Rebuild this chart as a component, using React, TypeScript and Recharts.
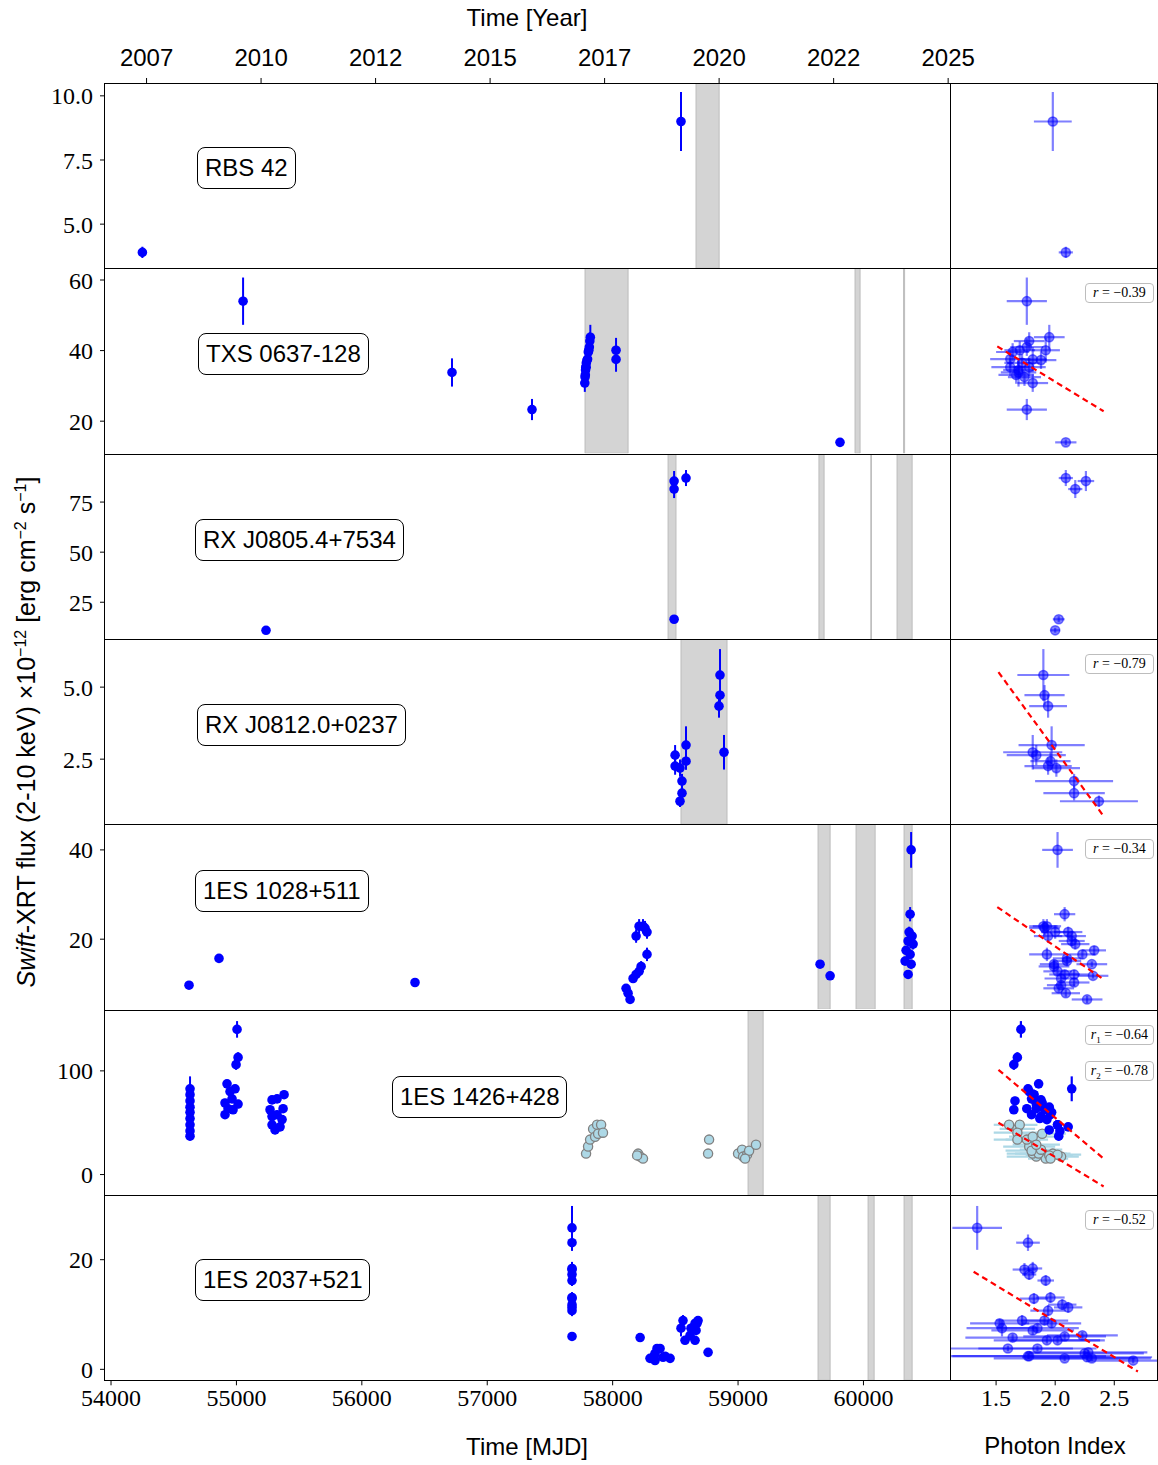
import React from "react"
import { ScatterChart, Scatter, XAxis, YAxis, ErrorBar, ReferenceArea } from "recharts"

const SANS = '"Liberation Sans", Arial, sans-serif'
const SERIF = '"Liberation Serif", "DejaVu Serif", serif'

// axes
const MJD_DOMAIN: [number, number] = [53952, 60690]
const mjdTicks = [54000, 55000, 56000, 57000, 58000, 59000, 60000]
const yearTicks = [2007.5, 2010, 2012.5, 2015, 2017.5, 2020, 2022.5, 2025]
const yearLabels = ["2007", "2010", "2012", "2015", "2017", "2020", "2022", "2025"]
const IDX_DOMAIN: [number, number] = [1.11, 2.87]
const idxTicks = [1.5, 2.0, 2.5]

// RBS 42
const rbsMjd = [54250, 58545]
const rbsFlux = [3.9, 9.0]
const rbsErr = [0.22, 1.15]
const rbsIdx = [2.09, 1.98]
const rbsIdxErr = [0.06, 0.16]
const rbsBands = [[58665, 58849]]

// TXS 0637-128
const txsMjd = [55053, 56719, 57357, 57778, 57780, 57782, 57784, 57786, 57788, 57790, 57796, 57800, 57806, 57810, 57814, 57818, 57822, 58027, 58027, 59813]
const txsFlux = [54.0, 33.8, 23.3, 30.8, 32.5, 33.1, 34.5, 35.3, 35.3, 36.5, 37.3, 37.6, 39.6, 40.1, 41.0, 42.7, 43.8, 40.1, 37.5, 14.0]
const txsErr = [6.7, 4.0, 3.0, 2.5, 2.5, 2.5, 2.5, 2.5, 2.5, 2.5, 2.5, 2.5, 2.5, 2.5, 2.5, 2.5, 3.5, 3.5, 3.5, 0.8]
const txsIdx = [1.76, 1.69, 1.76, 1.81, 1.74, 1.67, 1.69, 1.62, 1.78, 1.72, 1.88, 1.62, 1.64, 1.70, 1.76, 1.78, 1.95, 1.92, 1.81, 2.09]
const txsIdxErr = [0.17, 0.15, 0.17, 0.13, 0.14, 0.15, 0.13, 0.16, 0.14, 0.15, 0.13, 0.17, 0.14, 0.13, 0.14, 0.13, 0.13, 0.12, 0.12, 0.09]
const txsBands = [[57780, 58123], [59933, 59973], [60320, 60328]]
const txsFitIdx = [1.51, 2.41]
const txsFitFlux = [41.2, 22.8]

// RX J0805.4+7534
const rxaMjd = [55236, 58490, 58490, 58490, 58585]
const rxaFlux = [11.0, 85.5, 81.5, 16.5, 87.0]
const rxaErr = [1.2, 5.0, 4.5, 1.5, 4.0]
const rxaIdx = [2.0, 2.26, 2.17, 2.03, 2.09]
const rxaIdxErr = [0.04, 0.07, 0.06, 0.05, 0.06]
const rxaBands = [[58442, 58505], [59645, 59686], [60059, 60063], [60268, 60388]]

// RX J0812.0+0237
const rxbMjd = [58856, 58856, 58848, 58888, 58585, 58585, 58498, 58498, 58537, 58553, 58553, 58537]
const rxbFlux = [5.42, 4.72, 4.34, 2.74, 2.99, 2.43, 2.64, 2.26, 2.19, 1.74, 1.32, 1.04]
const rxbErr = [0.9, 0.35, 0.4, 0.6, 0.65, 0.3, 0.35, 0.3, 0.3, 0.25, 0.25, 0.2]
const rxbIdx = [1.9, 1.91, 1.94, 1.81, 1.97, 1.96, 1.84, 1.94, 2.01, 2.16, 2.16, 2.37]
const rxbIdxErr = [0.22, 0.17, 0.16, 0.25, 0.28, 0.17, 0.25, 0.2, 0.2, 0.33, 0.26, 0.33]
const rxbBands = [[58545, 58912]]
const rxbFitIdx = [1.52, 2.41]
const rxbFitFlux = [5.52, 0.52]

// 1ES 1028+511
const esaMjd = [54622, 54861, 56424, 58139, 58123, 58107, 58163, 58187, 58211, 58227, 58274, 58187, 58211, 58258, 58274, 58242, 59654, 59734, 60380, 60372, 60364, 60388, 60356, 60396, 60340, 60372, 60332, 60380, 60356]
const esaFlux = [9.7, 15.7, 10.3, 6.5, 7.9, 9.0, 11.2, 12.1, 12.8, 13.9, 16.6, 20.7, 22.9, 22.5, 21.6, 22.9, 14.4, 11.8, 40.0, 25.6, 21.6, 20.7, 19.6, 18.9, 17.5, 16.6, 15.1, 14.4, 12.1]
const esaErr = [0.6, 0.6, 0.8, 0.8, 0.8, 0.8, 1.0, 1.0, 1.0, 1.2, 1.5, 1.5, 1.6, 1.6, 1.5, 1.6, 0.6, 0.6, 4.0, 1.6, 1.2, 1.2, 1.2, 1.2, 1.0, 1.0, 1.0, 1.0, 1.0]
const esaIdx = [2.05, 2.1, 2.16, 2.27, 2.09, 2.03, 2.05, 2.08, 2.02, 1.99, 1.93, 1.94, 1.93, 1.91, 2.0, 1.9, 2.31, 2.32, 2.02, 2.08, 2.11, 2.14, 2.14, 2.17, 2.33, 2.23, 2.1, 1.99, 2.16]
const esaIdxErr = [0.12, 0.12, 0.13, 0.13, 0.12, 0.13, 0.14, 0.13, 0.12, 0.13, 0.15, 0.12, 0.12, 0.13, 0.12, 0.12, 0.13, 0.13, 0.13, 0.09, 0.12, 0.12, 0.11, 0.12, 0.1, 0.11, 0.12, 0.12, 0.13]
const esaBands = [[59638, 59734], [59941, 60093], [60324, 60388]]
const esaFitIdx = [1.51, 2.41]
const esaFitFlux = [27.2, 11.0]

// 1ES 1426+428 (two epochs)
const esbMjd = [54630, 54630, 54630, 54630, 54630, 54630, 54630, 54630, 54630, 55005, 55013, 54997, 54925, 54989, 54949, 54965, 55013, 54909, 54933, 54909, 54973, 55284, 55324, 55380, 55268, 55372, 55284, 55324, 55364, 55284, 55348, 55308]
const esbFlux = [82.7, 77, 71, 65, 60, 54, 48, 42, 37, 140, 113, 106, 87.5, 82.7, 80, 73, 68, 69, 63.5, 57.7, 62.5, 72, 73, 77, 62.5, 63.5, 56, 57.7, 53, 48, 46, 43]
const esbErr = [12, 5, 4, 4, 4, 4, 4, 4, 4, 8, 5, 5, 4, 4, 4, 4, 4, 4, 4, 4, 4, 4, 4, 4, 4, 4, 4, 4, 4, 4, 4, 4]
const esbIdx = [2.14, 1.82, 1.66, 1.95, 1.97, 1.87, 2.02, 2.04, 2.03, 1.71, 1.68, 1.65, 1.86, 1.77, 1.78, 1.81, 1.84, 1.89, 1.76, 1.8, 1.91, 1.88, 1.8, 1.82, 1.65, 1.84, 1.88, 1.96, 1.93, 2.02, 2.11, 1.95]
const esbIdxErr = esbIdx.map(() => 0.03)
const eslMjd = [57788, 57804, 57820, 57844, 57876, 57908, 57860, 57884, 57923, 58203, 58219, 58242, 58195, 58769, 58761, 59000, 59032, 59040, 59072, 59088, 59143, 59056]
const eslFlux = [20.2, 27, 33.7, 44, 48, 48, 36.5, 39.4, 40.4, 20.2, 17.3, 15.4, 18.5, 33.7, 20.2, 20.2, 24, 17.3, 19.2, 23, 28.8, 15.4]
const eslErr = eslFlux.map(() => 1.5)
const eslIdx = [1.9, 1.78, 1.76, 1.68, 1.61, 1.7, 1.81, 1.89, 1.68, 1.98, 1.84, 1.92, 1.95, 1.68, 1.81, 1.86, 1.88, 2.05, 2.02, 1.8, 1.84, 1.96]
const eslIdxErr = [0.2, 0.22, 0.18, 0.15, 0.13, 0.15, 0.2, 0.2, 0.2, 0.15, 0.25, 0.15, 0.2, 0.2, 0.22, 0.2, 0.18, 0.15, 0.2, 0.22, 0.2, 0.15]
const esbBands = [[59080, 59200]]
const esbFitIdx = [1.52, 2.41]
const esbFit1Flux = [101, 15.4]
const esbFit2Flux = [50, -11.5]

// 1ES 2037+521
const escMjd = [57676, 57676, 57676, 57676, 57676, 57676, 57676, 57676, 57676, 57676, 57676, 58561, 58657, 58545, 58681, 58673, 58625, 58665, 58219, 58657, 58577, 57676, 58617, 58378, 58354, 58418, 58330, 58298, 58338, 58761, 58402, 58458, 58338]
const escFlux = [25.8, 23.1, 18.2, 18.4, 17.3, 16.2, 12.9, 13.1, 11.8, 11.3, 10.7, 8.9, 8.4, 7.5, 8.9, 8.4, 7.5, 7.1, 5.8, 5.3, 5.3, 6.0, 6.2, 3.8, 3.8, 2.4, 2.4, 2.0, 2.9, 3.1, 2.2, 2.0, 1.6]
const escErr = [4, 1.5, 1.2, 1.2, 1.0, 1.0, 1.0, 1.0, 1.0, 1.0, 1.0, 1.0, 0.8, 1.5, 0.8, 0.8, 0.8, 0.8, 0.6, 0.6, 0.6, 0.6, 0.6, 0.5, 0.5, 0.5, 0.5, 0.5, 0.5, 0.5, 0.5, 0.5, 0.5]
const escIdx = [1.34, 1.77, 1.74, 1.81, 1.78, 1.92, 1.82, 1.96, 2.06, 2.11, 1.94, 1.72, 1.53, 1.55, 1.91, 1.97, 1.85, 1.81, 1.64, 1.93, 2.02, 2.08, 2.23, 1.6, 1.85, 1.77, 1.78, 2.08, 2.25, 2.28, 2.27, 2.31, 2.66]
const escIdxErr = [0.21, 0.1, 0.1, 0.08, 0.06, 0.07, 0.12, 0.12, 0.12, 0.12, 0.15, 0.22, 0.25, 0.3, 0.2, 0.25, 0.35, 0.35, 0.4, 0.45, 0.4, 0.35, 0.3, 0.55, 0.5, 0.7, 0.65, 0.6, 0.5, 0.5, 0.55, 0.5, 0.4]
const escBands = [[59638, 59734], [60037, 60085], [60324, 60388]]
const escFitIdx = [1.31, 2.7]
const escFitFlux = [17.8, -0.4]

type Kind = "blue" | "solid" | "light"
type Series = { mjd: number[]; flux: number[]; err: number[]; idx: number[]; idxErr: number[]; kind: Kind }
type Fit = { idx: number[]; flux: number[] }
type RLabel = { sub?: string; val: string }
type Row = {
 name: string
 labelX: number
 labelY: number
 yDomain: [number, number]
 yTicks: number[]
 digits: number
 bands: number[][]
 series: Series[]
 fits: Fit[]
 r: RLabel[]
}

const rows: Row[] = [
 { name: "RBS 42", labelX: 197, labelY: 64, yDomain: [3.28, 10.5], yTicks: [5, 7.5, 10], digits: 1, bands: rbsBands,
  series: [{ mjd: rbsMjd, flux: rbsFlux, err: rbsErr, idx: rbsIdx, idxErr: rbsIdxErr, kind: "blue" }], fits: [], r: [] },
 { name: "TXS 0637-128", labelX: 198, labelY: 65, yDomain: [10.9, 63.4], yTicks: [20, 40, 60], digits: 0, bands: txsBands,
  series: [{ mjd: txsMjd, flux: txsFlux, err: txsErr, idx: txsIdx, idxErr: txsIdxErr, kind: "blue" }],
  fits: [{ idx: txsFitIdx, flux: txsFitFlux }], r: [{ val: "−0.39" }] },
 { name: "RX J0805.4+7534", labelX: 195, labelY: 65, yDomain: [6.5, 99], yTicks: [25, 50, 75], digits: 0, bands: rxaBands,
  series: [{ mjd: rxaMjd, flux: rxaFlux, err: rxaErr, idx: rxaIdx, idxErr: rxaIdxErr, kind: "blue" }], fits: [], r: [] },
 { name: "RX J0812.0+0237", labelX: 197, labelY: 65, yDomain: [0.24, 6.67], yTicks: [2.5, 5], digits: 1, bands: rxbBands,
  series: [{ mjd: rxbMjd, flux: rxbFlux, err: rxbErr, idx: rxbIdx, idxErr: rxbIdxErr, kind: "blue" }],
  fits: [{ idx: rxbFitIdx, flux: rxbFitFlux }], r: [{ val: "−0.79" }] },
 { name: "1ES 1028+511", labelX: 195, labelY: 46, yDomain: [4.3, 45.8], yTicks: [20, 40], digits: 0, bands: esaBands,
  series: [{ mjd: esaMjd, flux: esaFlux, err: esaErr, idx: esaIdx, idxErr: esaIdxErr, kind: "blue" }],
  fits: [{ idx: esaFitIdx, flux: esaFitFlux }], r: [{ val: "−0.34" }] },
 { name: "1ES 1426+428", labelX: 392, labelY: 66, yDomain: [-20, 158.7], yTicks: [0, 100], digits: 0, bands: esbBands,
  series: [
   { mjd: eslMjd, flux: eslFlux, err: eslErr, idx: eslIdx, idxErr: eslIdxErr, kind: "light" },
   { mjd: esbMjd, flux: esbFlux, err: esbErr, idx: esbIdx, idxErr: esbIdxErr, kind: "solid" },
  ],
  fits: [{ idx: esbFitIdx, flux: esbFit1Flux }, { idx: esbFitIdx, flux: esbFit2Flux }],
  r: [{ sub: "1", val: "−0.64" }, { sub: "2", val: "−0.78" }] },
 { name: "1ES 2037+521", labelX: 195, labelY: 64, yDomain: [-2, 31.8], yTicks: [0, 20], digits: 0, bands: escBands,
  series: [{ mjd: escMjd, flux: escFlux, err: escErr, idx: escIdx, idxErr: escIdxErr, kind: "blue" }],
  fits: [{ idx: escFitIdx, flux: escFitFlux }], r: [{ val: "−0.52" }] },
]

const ROW_TOP = 83
const ROW_H = 185.3
const LEFT_W = 950
const RIGHT_W = 208
const yearToMjd = (y: number) => 51544 + (y - 2000) * 365.25

const solidDot = (p: any) => <circle cx={p.cx} cy={p.cy} r={4.8} fill="#0000ff" />
const alphaDot = (p: any) => (
 <circle cx={p.cx} cy={p.cy} r={4.6} fill="#0000ff" fillOpacity={0.5} stroke="#0000ff" strokeOpacity={0.5} strokeWidth={1.5} />
)
const lightDot = (p: any) => <circle cx={p.cx} cy={p.cy} r={4.6} fill="#add8e6" stroke="#808080" strokeWidth={1.3} />
const noDot = () => <g />

function LightCurve({ row, i }: { row: Row; i: number }) {
 const top = ROW_TOP + i * ROW_H
 const first = i === 0
 const last = i === rows.length - 1
 const axisH = first ? 60 : last ? 50 : 0
 const h = ROW_H + axisH
 const yearMjd = yearTicks.map(yearToMjd)
 return (
  <div style={{ position: "absolute", left: 0, top: first ? top - axisH : top }}>
   {/* 40px extra on the right so the last year label is not clipped */}
   <ScatterChart width={LEFT_W + 40} height={h} margin={{ top: 0, right: 40, bottom: 0, left: 0 }}>
    <XAxis
     type="number"
     dataKey="x"
     domain={MJD_DOMAIN}
     allowDataOverflow
     hide={!first && !last}
     orientation={first ? "top" : "bottom"}
     height={axisH || 30}
     ticks={first ? yearMjd : mjdTicks}
     tickFormatter={(v: number, k: number) => (first ? yearLabels[k] : String(v))}
     axisLine={false}
     tickLine={{ stroke: "#000" }}
     tickSize={5}
     tickMargin={first ? 12 : 4}
     tick={{ fontFamily: first ? SANS : SERIF, fontSize: 24, fill: "#000" }}
     interval={0}
    />
    <YAxis
     type="number"
     dataKey="y"
     domain={row.yDomain}
     allowDataOverflow
     ticks={row.yTicks}
     tickFormatter={(v: number) => v.toFixed(row.digits)}
     width={105}
     axisLine={false}
     tickLine={{ stroke: "#000" }}
     tickSize={5}
     tickMargin={7}
     tick={{ fontFamily: SERIF, fontSize: 24, fill: "#000" }}
     interval={0}
    />
    {row.bands.map((b, k) => (
     <ReferenceArea key={k} x1={b[0]} x2={b[1]} fill="#d4d4d4" fillOpacity={1} stroke="#bcbcbc" strokeWidth={1} ifOverflow="hidden" />
    ))}
    {row.series.map((s, k) => (
     <Scatter
      key={k}
      data={s.mjd.map((m, j) => ({ x: m, y: s.flux[j], ey: s.err[j] }))}
      shape={s.kind === "light" ? lightDot : solidDot}
      isAnimationActive={false}
     >
      {s.kind !== "light" && <ErrorBar dataKey="ey" direction="y" width={0} stroke="#0000ff" strokeWidth={2} />}
     </Scatter>
    ))}
   </ScatterChart>
  </div>
 )
}

function IndexPanel({ row, i }: { row: Row; i: number }) {
 const top = ROW_TOP + i * ROW_H
 const last = i === rows.length - 1
 const axisH = last ? 50 : 0
 return (
  <div style={{ position: "absolute", left: LEFT_W, top }}>
   <ScatterChart width={RIGHT_W} height={ROW_H + axisH} margin={{ top: 0, right: 0, bottom: 0, left: 0 }}>
    <XAxis
     type="number"
     dataKey="x"
     domain={IDX_DOMAIN}
     allowDataOverflow
     hide={!last}
     height={axisH || 30}
     ticks={idxTicks}
     tickFormatter={(v: number) => v.toFixed(1)}
     axisLine={false}
     tickLine={{ stroke: "#000" }}
     tickSize={5}
     tickMargin={4}
     tick={{ fontFamily: SERIF, fontSize: 24, fill: "#000" }}
     interval={0}
    />
    <YAxis type="number" dataKey="y" domain={row.yDomain} allowDataOverflow hide />
    {row.series.map((s, k) => {
     const light = s.kind === "light"
     const col = light ? "#add8e6" : s.kind === "solid" ? "#0000ff" : "rgba(0,0,255,0.5)"
     return (
      <Scatter
       key={k}
       data={s.idx.map((g, j) => ({ x: g, y: s.flux[j], ex: s.idxErr[j], ey: light ? 0 : s.err[j] }))}
       shape={light ? lightDot : s.kind === "solid" ? solidDot : alphaDot}
       isAnimationActive={false}
      >
       <ErrorBar dataKey="ex" direction="x" width={0} stroke={col} strokeWidth={2.2} />
       <ErrorBar dataKey="ey" direction="y" width={0} stroke={col} strokeWidth={2.2} />
      </Scatter>
     )
    })}
    {row.fits.map((f, k) => (
     <Scatter
      key={"f" + k}
      data={f.idx.map((g, j) => ({ x: g, y: f.flux[j] }))}
      line={{ stroke: "#ff0000", strokeWidth: 2.2, strokeDasharray: "6 4" }}
      shape={noDot}
      isAnimationActive={false}
     />
    ))}
   </ScatterChart>
  </div>
 )
}

export default function App() {
 return (
  <div style={{ position: "absolute", left: 0, top: 0, width: 1158, height: 1465, background: "#fff", fontFamily: SANS, overflow: "hidden" }}>
   {rows.map((row, i) => (
    <LightCurve key={"l" + i} row={row} i={i} />
   ))}
   {rows.map((row, i) => (
    <IndexPanel key={"r" + i} row={row} i={i} />
   ))}

   {/* panel frames */}
   {rows.map((row, i) => {
    const top = Math.round(ROW_TOP + i * ROW_H)
    const h = Math.round(ROW_TOP + (i + 1) * ROW_H) - top + 1
    return (
     <React.Fragment key={"fr" + i}>
      <div style={{ position: "absolute", left: 104, top, width: 847, height: h, border: "1px solid #000", boxSizing: "border-box", pointerEvents: "none" }} />
      <div style={{ position: "absolute", left: 950, top, width: 208, height: h, border: "1px solid #000", boxSizing: "border-box", pointerEvents: "none" }} />
     </React.Fragment>
    )
   })}

   {/* source names */}
   {rows.map((row, i) => (
    <div
     key={"n" + i}
     style={{
      position: "absolute",
      left: row.labelX,
      top: ROW_TOP + i * ROW_H + row.labelY,
      height: 42,
      lineHeight: "40px",
      padding: "0 7px",
      border: "1.5px solid #000",
      borderRadius: 8,
      background: "#fff",
      fontSize: 24,
      boxSizing: "border-box",
      whiteSpace: "nowrap",
     }}
    >
     {row.name}
    </div>
   ))}

   {/* correlation coefficients */}
   {rows.map((row, i) =>
    row.r.map((r, k) => (
     <div
      key={"r" + i + k}
      style={{
       position: "absolute",
       left: 1085,
       top: ROW_TOP + i * ROW_H + 15 + k * 36,
       width: 69,
       height: 20,
       lineHeight: "18px",
       border: "1px solid #bdbdbd",
       borderRadius: 4,
       background: "#fff",
       fontFamily: SERIF,
       fontSize: 14,
       textAlign: "center",
       boxSizing: "border-box",
       whiteSpace: "nowrap",
      }}
     >
      <i>r</i>
      {r.sub && <sub style={{ fontSize: 9, lineHeight: 0 }}>{r.sub}</sub>} = {r.val}
     </div>
    ))
   )}

   {/* titles */}
   <div style={{ position: "absolute", left: 527, top: 18, transform: "translate(-50%,-50%)", fontSize: 24, whiteSpace: "nowrap" }}>Time [Year]</div>
   <div style={{ position: "absolute", left: 527, top: 1447, transform: "translate(-50%,-50%)", fontSize: 24, whiteSpace: "nowrap" }}>Time [MJD]</div>
   <div style={{ position: "absolute", left: 1055, top: 1446, transform: "translate(-50%,-50%)", fontSize: 24, whiteSpace: "nowrap" }}>Photon Index</div>
   <div
    style={{
     position: "absolute",
     left: 26,
     top: 732,
     transform: "translate(-50%,-50%) rotate(-90deg)",
     fontSize: 25,
     whiteSpace: "nowrap",
     lineHeight: "30px",
    }}
   >
    <i>Swift</i>-XRT flux (2-10 keV) ×10<sup style={{ fontSize: 16, lineHeight: 0 }}>−12</sup> [erg cm<sup style={{ fontSize: 16, lineHeight: 0 }}>−2</sup> s<sup style={{ fontSize: 16, lineHeight: 0 }}>−1</sup>]
   </div>
  </div>
 )
}
